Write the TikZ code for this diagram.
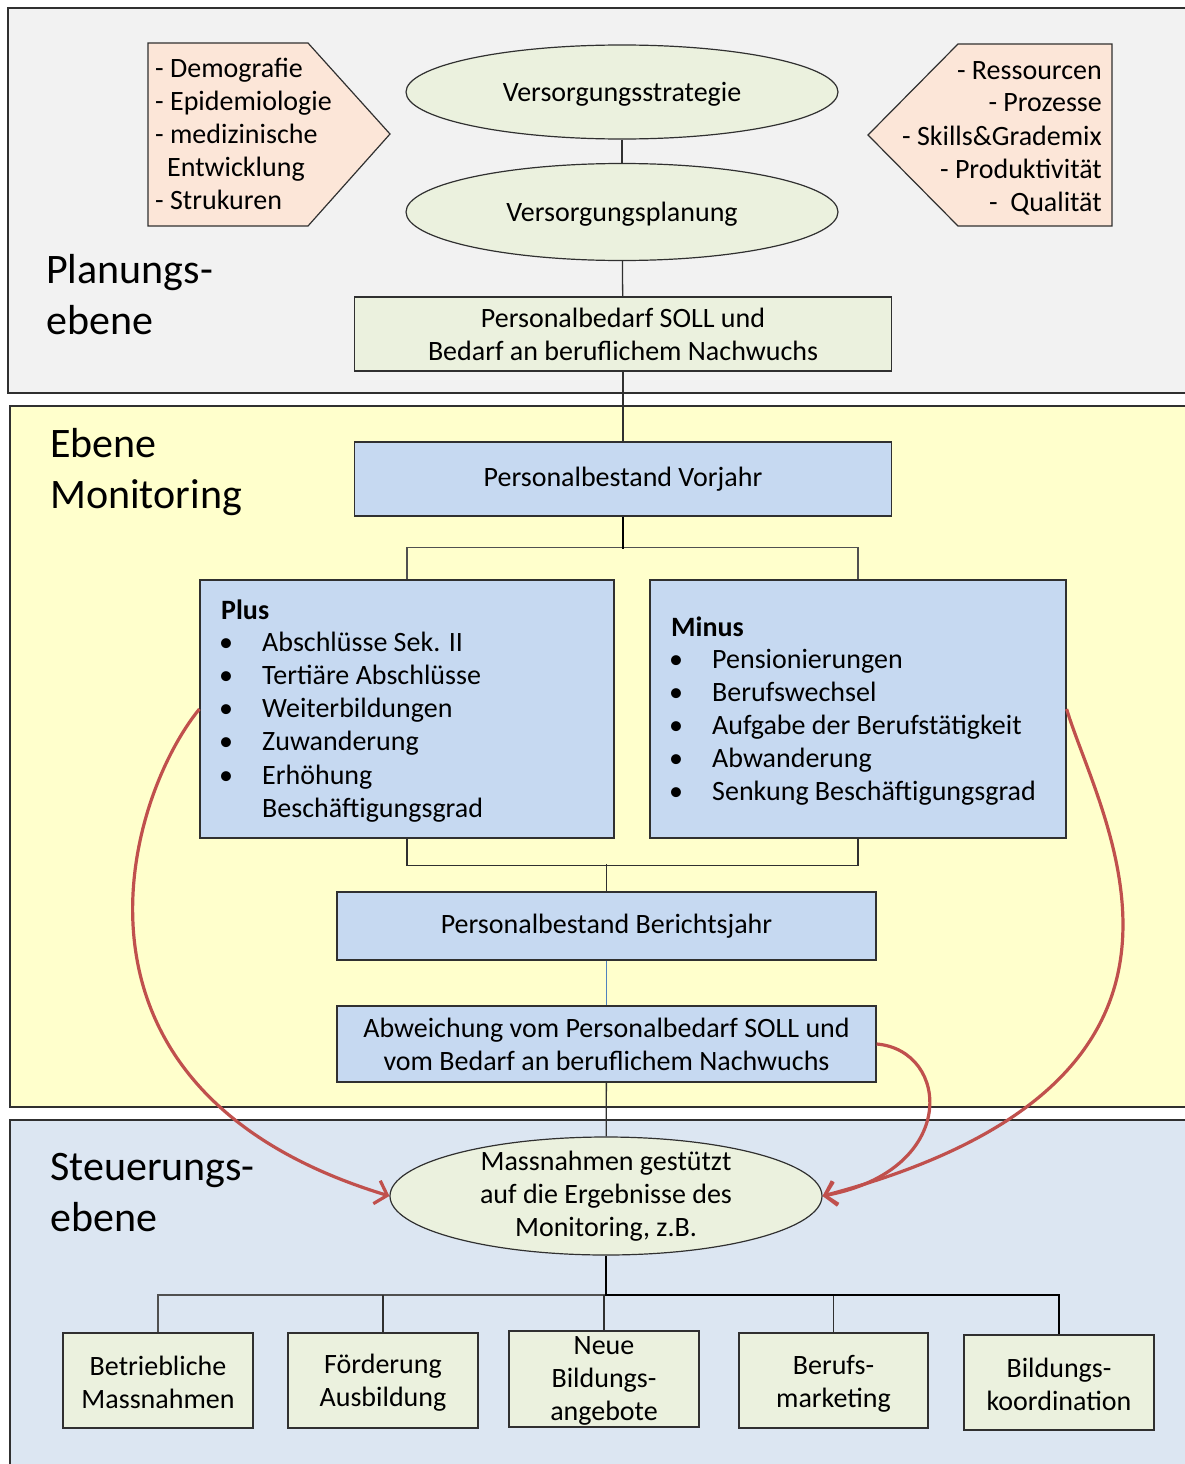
\documentclass[tikz,border=0pt]{standalone}
\usepackage{fontspec}
\setmainfont{Carlito}
\usetikzlibrary{shapes.geometric,arrows.meta}
\definecolor{pgray}{HTML}{F2F2F2}
\definecolor{pyellow}{HTML}{FFFFCC}
\definecolor{pblue}{HTML}{DCE6F2}
\definecolor{peach}{HTML}{FCE6D8}
\definecolor{lgreen}{HTML}{EBF1DE}
\definecolor{bbox}{HTML}{C6D9F1}
\definecolor{redc}{HTML}{C0504D}
\definecolor{blin}{HTML}{4F81BD}
\definecolor{edge}{HTML}{303030}
\definecolor{gline}{HTML}{505050}
\begin{document}
\begin{tikzpicture}[x=1pt,y=-1pt,
  font=\fontsize{28}{33}\selectfont,
  panel/.style={draw=edge,line width=1.4pt},
  pent/.style={draw=edge,line width=1.2pt,fill=peach},
  ell/.style={ellipse,draw=edge,line width=1.2pt,fill=lgreen,inner sep=0pt},
  greenbox/.style={rectangle,draw=edge,line width=1.2pt,fill=lgreen,inner sep=0pt,align=center},
  bluebox/.style={rectangle,draw=edge,line width=1.2pt,fill=bbox,inner sep=0pt,align=center},
  conn/.style={draw=edge,line width=1.3pt},
  gconn/.style={draw=gline,line width=1.4pt},
  thick conn/.style={draw=black,line width=2.3pt},
  redarr/.style={draw=redc,line width=3.2pt,-{Straight Barb[length=11pt,width=24pt]}},
  big/.style={font=\fontsize{42}{51}\selectfont,inner sep=0pt},
  txt/.style={inner sep=0pt}]
\useasboundingbox (0,0) rectangle (1184,1464);

% panels
\draw[panel,fill=pgray] (8,8) rectangle (1196,393);
\draw[panel,fill=pyellow] (10,406) rectangle (1196,1107);
\draw[panel,fill=pblue] (10,1120) rectangle (1196,1476);

% level labels
\node[big,anchor=mid west] (l1a) at (46,281) {Planungs-};
\node[big,anchor=mid west] (l1b) at (46,332) {ebene};
\node[big,anchor=mid west] (l2a) at (50,455) {Ebene};
\node[big,anchor=mid west] (l2b) at (50,506) {Monitoring};
\node[big,anchor=mid west] (l3a) at (50,1178) {Steuerungs-};
\node[big,anchor=mid west] (l3b) at (50,1229) {ebene};

% pentagons
\draw[pent] (148,43) -- (308,43) -- (390,134) -- (308,226) -- (148,226) -- cycle;
\draw[pent] (1112,44) -- (958,44) -- (868,135) -- (958,226) -- (1112,226) -- cycle;
\node[txt,anchor=mid west] (la) at (155,75) {- Demografie};
\node[txt,anchor=mid west] (lb) at (155,108) {- Epidemiologie};
\node[txt,anchor=mid west] (lc) at (155,141) {- medizinische};
\node[txt,anchor=mid west] (ld) at (167,174) {Entwicklung};
\node[txt,anchor=mid west] (le) at (155,207) {- Strukuren};
\node[txt,anchor=mid east] (ra) at (1102,77) {- Ressourcen};
\node[txt,anchor=mid east] (rb) at (1102,109) {- Prozesse};
\node[txt,anchor=mid east] (rc) at (1102,143) {- Skills\&Grademix};
\node[txt,anchor=mid east] (rd) at (1102,176) {- Produktivität};
\node[txt,anchor=mid east] (re) at (1102,209) {-\ \ Qualität};

% planning chain
\node[ell,minimum width=432pt,minimum height=94pt] (strat) at (622,92) {};
\node[txt] (strattxt) at (622,94) {Versorgungsstrategie};
\node[ell,minimum width=432pt,minimum height=97pt] (plan) at (622,212) {};
\node[txt] (plantxt) at (622,214) {Versorgungsplanung};
\node[greenbox,minimum width=537pt,minimum height=74pt] (soll) at (623,334)
  {Personalbedarf SOLL und\\Bedarf an beruflichem Nachwuchs};
\draw[conn] (strat) -- (plan);
\draw[conn] (plan) -- (soll);

% monitoring
\node[bluebox,minimum width=537pt,minimum height=74pt] (vorjahr) at (623,479) {Personalbestand Vorjahr};
\draw[conn] (soll) -- (vorjahr);
\node[bluebox,minimum width=414pt,minimum height=258pt] (plus) at (407,709) {};
\node[bluebox,minimum width=416pt,minimum height=258pt] (minus) at (858,709) {};
\draw[gconn] (plus.north) -- ++(0,-32) -| (minus.north);
\draw[thick conn] (vorjahr.south) -- ++(0,32);

\node[txt,anchor=mid west] (plushead) at (221,617) {\textbf{Plus}};
\foreach \t [count=\i from 0] in {Abschlüsse Sek. II,Tertiäre Abschlüsse,Weiterbildungen,Zuwanderung,Erhöhung}{
  \node[txt,anchor=mid] (pb\i) at (226,{649+33.2*\i}) {•};
  \node[txt,anchor=mid west] (pt\i) at (262,{649+33.2*\i}) {\t};
}
\node[txt,anchor=mid west] (pt5) at (262,815) {Beschäftigungsgrad};

\node[txt,anchor=mid west] (minushead) at (671,634) {\textbf{Minus}};
\foreach \t [count=\i from 0] in {Pensionierungen,Berufswechsel,Aufgabe der Berufstätigkeit,Abwanderung,Senkung Beschäftigungsgrad}{
  \node[txt,anchor=mid] (mb\i) at (676,{666+33*\i}) {•};
  \node[txt,anchor=mid west] (mt\i) at (712,{666+33*\i}) {\t};
}

\node[bluebox,minimum width=539pt,minimum height=68pt] (bericht) at (606.5,926) {Personalbestand Berichtsjahr};
\draw[conn] (plus.south) -- ++(0,27) -| (minus.south);
\draw[conn] (bericht.north) -- ++(0,-27);
\node[bluebox,minimum width=539pt,minimum height=76pt] (abw) at (606.5,1044)
  {Abweichung vom Personalbedarf SOLL und\\vom Bedarf an beruflichem Nachwuchs};
\draw[draw=blin,line width=1.3pt] (bericht) -- (abw);

% steering
\node[ell,minimum width=432pt,minimum height=118pt] (mass) at (606,1196) {};
\node[txt,align=center] (masstxt) at (mass.center) {Massnahmen gestützt\\auf die Ergebnisse des\\Monitoring, z.B.};
\draw[conn] (abw) -- (mass);

\node[greenbox,minimum width=190pt,minimum height=95pt] (b1) at (158,1380.5) {};
\node[greenbox,minimum width=190pt,minimum height=95pt] (b2) at (383,1380.5) {};
\node[greenbox,minimum width=190pt,minimum height=96pt] (b3) at (604,1379) {};
\node[greenbox,minimum width=189pt,minimum height=95pt] (b4) at (833.5,1380.5) {};
\node[greenbox,minimum width=190pt,minimum height=95pt] (b5) at (1059,1382.5) {};
\node[txt,align=center] (b1t) at (158,1382) {Betriebliche\\Massnahmen};
\node[txt,align=center] (b2t) at (383,1382.5) {Förderung\\Ausbildung};
\node[txt,align=center] (b3t) at (604,1381) {Neue\\Bildungs-\\angebote};
\node[txt,align=center] (b4t) at (833.5,1383.5) {Berufs-\\marketing};
\node[txt,align=center] (b5t) at (1059,1384.5) {Bildungs-\\koordination};
\coordinate (hub) at (606,1295);
\draw[gconn] (b1.north) |- (hub);
\draw[conn] (b2.north) -- (b2.north |- hub);
\draw[conn] (b3.north) -- (b3.north |- hub);
\draw[conn] (b4.north) -- (b4.north |- hub);
\draw[thick conn] (mass.south) -- (hub) -| (b5.north);

% red arrows
\draw[redarr] (plus.west) .. controls (125,800) and (40,1090) .. (mass.west);
\draw[redarr] (minus.east) .. controls (1100,820) and (1260,1080) .. (mass.east);
\draw[redarr] (abw.east) .. controls (950,1050) and (960,1170) .. (mass.east);
\end{tikzpicture}
\end{document}
